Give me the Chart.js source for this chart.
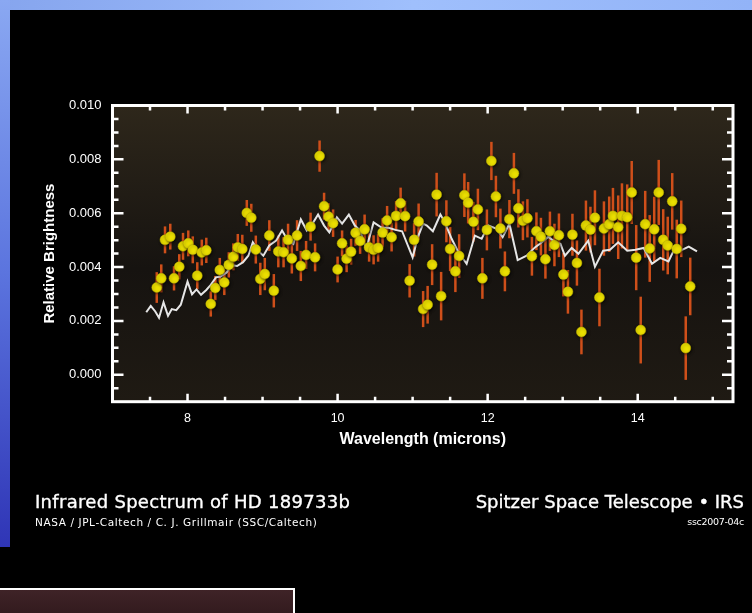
<!DOCTYPE html>
<html>
<head>
<meta charset="utf-8">
<script src="https://cdn.jsdelivr.net/npm/chart.js@4.4.0/dist/chart.umd.min.js"></script>
<style>
  html, body { margin: 0; padding: 0; background: #000; }
  #wrap { position: relative; width: 752px; height: 613px; overflow: hidden; background: #000; }
  #skyTop { position: absolute; left: 0; top: 0; width: 752px; height: 10px;
            background: linear-gradient(90deg, #86a5ee, #9fbffc 55%, #92b3f7); }
  #skyLeft { position: absolute; left: 0; top: 0; width: 10px; height: 547px;
             background: linear-gradient(180deg, #8aa8f2, #5b74de 50%, #2f35b6); }
  #box { position: absolute; left: -3px; top: 588px; width: 294px; height: 40px;
         border: 2px solid #fff; background: linear-gradient(180deg, #3f2327, #2b1518); }
  #chart { position: absolute; left: 0; top: 0; }
  .cap { position: absolute; color: #fff; white-space: nowrap; font-family: "DejaVu Sans"; }
  .big { font-size: 18px; line-height: 17px; -webkit-text-stroke: 0.35px #fff; }
  #title { left: 35px; top: 493px; letter-spacing: 0.3px; }
  #credit { left: 35px; top: 516.5px; font-size: 10.5px; line-height: 10px; letter-spacing: 0.6px; }
  #mission { right: 8px; top: 493px; }
  #code { right: 8px; top: 517px; font-size: 9.5px; line-height: 10px; letter-spacing: -0.3px; }
</style>
</head>
<body>
<div id="wrap">
  <div id="skyTop"></div>
  <div id="skyLeft"></div>
  <div id="box"></div>
  <canvas id="chart" width="752" height="613"></canvas>
  <div class="cap big" id="title">Infrared Spectrum of HD 189733b</div>
  <div class="cap" id="credit">NASA / JPL-Caltech / C. J. Grillmair (SSC/Caltech)</div>
  <div class="cap big" id="mission">Spitzer Space Telescope • IRS</div>
  <div class="cap" id="code">ssc2007-04c</div>
</div>
<script>
// measured spectrum (microns, relative brightness, 1-sigma)
const wavelength = [
  7.59, 7.65, 7.70, 7.77, 7.82, 7.89, 7.94, 8.01, 8.07, 8.13,
  8.19, 8.25, 8.31, 8.37, 8.43, 8.49, 8.55, 8.61, 8.67, 8.73,
  8.79, 8.85, 8.91, 8.97, 9.03, 9.09, 9.15, 9.21, 9.28, 9.34,
  9.39, 9.46, 9.51, 9.58, 9.64, 9.70, 9.76, 9.82, 9.88, 9.94,
  10.00, 10.06, 10.12, 10.18, 10.24, 10.30, 10.36, 10.42, 10.48, 10.54,
  10.60, 10.66, 10.72, 10.78, 10.84, 10.90, 10.96, 11.02, 11.08, 11.14,
  11.20, 11.26, 11.32, 11.38, 11.45, 11.50, 11.57, 11.62, 11.69, 11.74,
  11.81, 11.87, 11.93, 11.99, 12.05, 12.11, 12.17, 12.23, 12.29, 12.35,
  12.41, 12.47, 12.53, 12.59, 12.65, 12.71, 12.77, 12.83, 12.89, 12.95,
  13.01, 13.07, 13.13, 13.19, 13.25, 13.31, 13.37, 13.43, 13.49, 13.55,
  13.62, 13.67, 13.74, 13.79, 13.86, 13.92, 13.98, 14.04, 14.10, 14.16,
  14.22, 14.28, 14.34, 14.40, 14.46, 14.52, 14.58, 14.64, 14.70
];
const brightness = [
  0.00324, 0.00358, 0.00501, 0.00513, 0.00358, 0.00401, 0.00477, 0.00488, 0.00464, 0.00368,
  0.00454, 0.00462, 0.00263, 0.00322, 0.00389, 0.00343, 0.00408, 0.00438, 0.00473, 0.00467,
  0.00601, 0.00583, 0.00465, 0.00356, 0.00374, 0.00517, 0.00312, 0.00458, 0.00455, 0.00501,
  0.00432, 0.00517, 0.00404, 0.00445, 0.00550, 0.00436, 0.00812, 0.00626, 0.00587, 0.00563,
  0.00391, 0.00488, 0.00431, 0.00457, 0.00527, 0.00497, 0.00540, 0.00473, 0.00464, 0.00471,
  0.00528, 0.00573, 0.00511, 0.00590, 0.00637, 0.00589, 0.00349, 0.00501, 0.00569, 0.00244,
  0.00260, 0.00409, 0.00669, 0.00292, 0.00570, 0.00467, 0.00384, 0.00441, 0.00667, 0.00639,
  0.00568, 0.00614, 0.00358, 0.00538, 0.00794, 0.00662, 0.00543, 0.00384, 0.00578, 0.00748,
  0.00618, 0.00572, 0.00581, 0.00440, 0.00533, 0.00513, 0.00429, 0.00533, 0.00482, 0.00518,
  0.00372, 0.00308, 0.00520, 0.00415, 0.00159, 0.00554, 0.00539, 0.00583, 0.00287, 0.00543,
  0.00559, 0.00590, 0.00548, 0.00590, 0.00585, 0.00677, 0.00435, 0.00166, 0.00559, 0.00469,
  0.00540, 0.00677, 0.00501, 0.00480, 0.00644, 0.00467, 0.00542, 0.00099, 0.00328
];
const brightnessErr = [
  0.00057, 0.00052, 0.00050, 0.00048, 0.00045, 0.00047, 0.00050, 0.00048, 0.00050, 0.00050,
  0.00048, 0.00047, 0.00047, 0.00045, 0.00045, 0.00047, 0.00047, 0.00050, 0.00050, 0.00053,
  0.00048, 0.00052, 0.00052, 0.00060, 0.00060, 0.00057, 0.00062, 0.00059, 0.00056, 0.00060,
  0.00056, 0.00057, 0.00056, 0.00052, 0.00052, 0.00052, 0.00058, 0.00050, 0.00050, 0.00051,
  0.00048, 0.00048, 0.00050, 0.00048, 0.00048, 0.00048, 0.00055, 0.00053, 0.00054, 0.00051,
  0.00053, 0.00054, 0.00053, 0.00055, 0.00058, 0.00057, 0.00062, 0.00062, 0.00067, 0.00067,
  0.00070, 0.00076, 0.00081, 0.00090, 0.00078, 0.00082, 0.00077, 0.00081, 0.00081, 0.00077,
  0.00074, 0.00077, 0.00076, 0.00076, 0.00071, 0.00077, 0.00074, 0.00074, 0.00071, 0.00076,
  0.00071, 0.00072, 0.00071, 0.00072, 0.00070, 0.00070, 0.00072, 0.00073, 0.00079, 0.00081,
  0.00081, 0.00081, 0.00078, 0.00084, 0.00083, 0.00093, 0.00085, 0.00102, 0.00107, 0.00101,
  0.00103, 0.00104, 0.00118, 0.00121, 0.00122, 0.00117, 0.00121, 0.00124, 0.00124, 0.00124,
  0.00121, 0.00121, 0.00114, 0.00107, 0.00105, 0.00109, 0.00105, 0.00118, 0.00107
];

// model spectrum (white curve)
const modelWavelength = [
  7.45, 7.51, 7.57, 7.62, 7.68, 7.74, 7.79, 7.85, 7.91, 8.00,
  8.06, 8.12, 8.18, 8.25, 8.31, 8.38, 8.44, 8.52, 8.59, 8.66,
  8.74, 8.81, 8.87, 8.94, 9.01, 9.09, 9.18, 9.26, 9.34, 9.41,
  9.51, 9.59, 9.65, 9.74, 9.82, 9.89, 9.99, 10.06, 10.15, 10.23,
  10.30, 10.38, 10.48, 10.59, 10.68, 10.77, 10.86, 11.00, 11.07, 11.14,
  11.19, 11.27, 11.37, 11.43, 11.52, 11.61, 11.72, 11.83, 11.92, 12.01,
  12.12, 12.20, 12.29, 12.40, 12.52, 12.63, 12.74, 12.81, 12.90, 12.97,
  13.03, 13.12, 13.21, 13.34, 13.43, 13.54, 13.63, 13.74, 13.86, 13.97,
  14.08, 14.19, 14.30, 14.41, 14.50, 14.57, 14.68, 14.79
];
const modelBrightness = [
  0.00232, 0.00256, 0.00235, 0.00212, 0.00269, 0.00219, 0.00244, 0.00240, 0.00260, 0.00346,
  0.00299, 0.00317, 0.00297, 0.00315, 0.00334, 0.00362, 0.00365, 0.00380, 0.00407, 0.00404,
  0.00418, 0.00442, 0.00492, 0.00461, 0.00442, 0.00480, 0.00498, 0.00536, 0.00498, 0.00486,
  0.00577, 0.00536, 0.00554, 0.00595, 0.00554, 0.00529, 0.00585, 0.00561, 0.00595, 0.00554,
  0.00536, 0.00467, 0.00566, 0.00546, 0.00546, 0.00538, 0.00533, 0.00436, 0.00511, 0.00561,
  0.00554, 0.00533, 0.00595, 0.00566, 0.00505, 0.00455, 0.00412, 0.00517, 0.00505, 0.00554,
  0.00542, 0.00511, 0.00561, 0.00426, 0.00442, 0.00473, 0.00496, 0.00513, 0.00492, 0.00486,
  0.00442, 0.00471, 0.00449, 0.00498, 0.00401, 0.00461, 0.00464, 0.00492, 0.00461, 0.00464,
  0.00471, 0.00412, 0.00434, 0.00421, 0.00473, 0.00461, 0.00476, 0.00458
];

const xTickValues = [8, 10, 12, 14];
const yTickValues = [0.000, 0.002, 0.004, 0.006, 0.008, 0.010];

const points = wavelength.map((w, i) => ({ x: w, y: brightness[i] }));
const model = modelWavelength.map((w, i) => ({ x: w, y: modelBrightness[i] }));

// brownish plot background
const plotBackground = {
  id: 'plotBackground',
  beforeDraw(chart) {
    const { ctx, chartArea: a } = chart;
    const g = ctx.createLinearGradient(0, a.top, 0, a.bottom);
    g.addColorStop(0, '#2e271b');
    g.addColorStop(0.55, '#161310');
    g.addColorStop(1, '#1f1a13');
    ctx.save();
    ctx.fillStyle = g;
    ctx.fillRect(a.left, a.top, a.right - a.left, a.bottom - a.top);
    ctx.restore();
  }
};

// vertical error bars, under the line and the dots
const errorBars = {
  id: 'errorBars',
  beforeDatasetsDraw(chart) {
    const { ctx, scales: { x, y } } = chart;
    ctx.save();
    ctx.strokeStyle = '#cf4f1a';
    ctx.lineWidth = 2.5;
    wavelength.forEach((w, i) => {
      const px = x.getPixelForValue(w);
      ctx.beginPath();
      ctx.moveTo(px, y.getPixelForValue(brightness[i] - brightnessErr[i]));
      ctx.lineTo(px, y.getPixelForValue(brightness[i] + brightnessErr[i]));
      ctx.stroke();
    });
    ctx.restore();
  }
};

// soft shadow behind the yellow dots
const dotShadow = {
  id: 'dotShadow',
  beforeDatasetDraw(chart, args) {
    if (args.index !== 0) return;
    const ctx = chart.ctx;
    ctx.save();
    ctx.shadowColor = 'rgba(0,0,0,0.7)';
    ctx.shadowBlur = 3;
    ctx.shadowOffsetX = 1;
    ctx.shadowOffsetY = 1;
  },
  afterDatasetDraw(chart, args) {
    if (args.index !== 0) return;
    chart.ctx.restore();
  }
};

// white box with inward ticks on all four sides
const frame = {
  id: 'frame',
  afterDraw(chart) {
    const { ctx, chartArea: a, scales: { x, y } } = chart;
    ctx.save();
    ctx.strokeStyle = '#fff';
    ctx.lineWidth = 2.5;
    ctx.beginPath();
    for (let v = 7.5; v < x.max; v += 0.5) {
      const px = x.getPixelForValue(v);
      const len = Number.isInteger(v) && v % 2 === 0 ? 8 : 5;
      ctx.moveTo(px, a.bottom); ctx.lineTo(px, a.bottom - len);
      ctx.moveTo(px, a.top); ctx.lineTo(px, a.top + len);
    }
    for (let k = -1; k <= 20; k++) {
      const py = y.getPixelForValue(k * 0.0005);
      const len = k % 4 === 0 ? 11 : 6;
      ctx.moveTo(a.left, py); ctx.lineTo(a.left + len, py);
      ctx.moveTo(a.right, py); ctx.lineTo(a.right - len, py);
    }
    ctx.stroke();
    ctx.lineWidth = 3;
    ctx.strokeRect(a.left, a.top, a.right - a.left, a.bottom - a.top);
    ctx.restore();
  }
};

new Chart(document.getElementById('chart'), {
  type: 'scatter',
  data: {
    datasets: [
      {
        label: 'Data',
        data: points,
        order: 0,
        pointRadius: 5,
        pointBackgroundColor: '#ebdf00',
        pointBorderColor: '#b9ac00',
        pointBorderWidth: 0.5
      },
      {
        label: 'Model',
        type: 'line',
        data: model,
        order: 1,
        showLine: true,
        borderColor: '#e6e6e6',
        borderWidth: 2,
        pointRadius: 0,
        tension: 0,
        fill: false
      }
    ]
  },
  options: {
    responsive: false,
    animation: false,
    events: [],
    layout: { padding: { left: 0, top: 105.5, right: 19, bottom: 161.3 } },
    plugins: { legend: { display: false }, tooltip: { enabled: false } },
    scales: {
      x: {
        type: 'linear',
        min: 7,
        max: 15.27,
        afterBuildTicks: s => { s.ticks = xTickValues.map(v => ({ value: v })); },
        afterFit: s => { s.height = 50; },
        grid: { display: false, drawTicks: false },
        border: { display: false },
        ticks: {
          color: '#fff',
          padding: 9,
          maxRotation: 0,
          font: { family: 'Liberation Sans', size: 12.5 }
        },
        title: {
          display: true,
          text: 'Wavelength (microns)',
          color: '#fff',
          font: { family: 'Liberation Sans', size: 16, weight: 'bold' },
          padding: { top: 0, bottom: 3 }
        }
      },
      y: {
        type: 'linear',
        min: -0.001,
        max: 0.010,
        afterBuildTicks: s => { s.ticks = yTickValues.map(v => ({ value: v })); },
        afterFit: s => { s.width = 112.5; },
        grid: { display: false, drawTicks: false },
        border: { display: false },
        ticks: {
          color: '#fff',
          padding: 11,
          font: { family: 'Liberation Sans', size: 13 },
          callback: v => v.toFixed(3)
        },
        title: {
          display: true,
          text: 'Relative Brightness',
          color: '#fff',
          font: { family: 'Liberation Sans', size: 15, weight: 'bold' },
          padding: { top: 41, bottom: 0 }
        }
      }
    }
  },
  plugins: [plotBackground, errorBars, dotShadow, frame]
});
</script>
</body>
</html>
